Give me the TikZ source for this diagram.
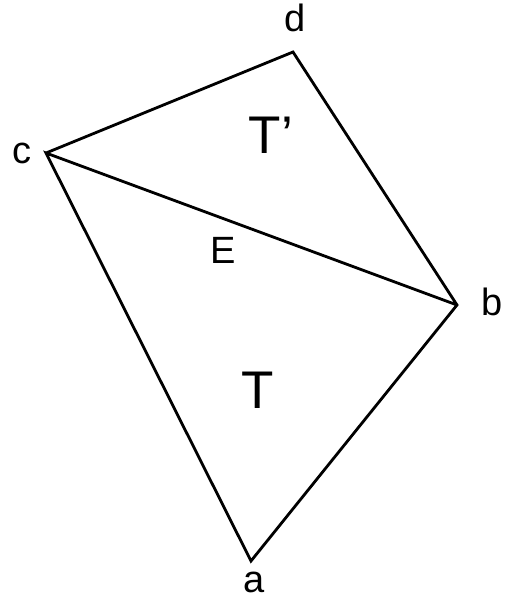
\documentclass[tikz,border=0pt]{standalone}
\usepackage{fontspec}
\setmainfont{Liberation Sans}
\usetikzlibrary{positioning}

\begin{document}
\begin{tikzpicture}[x=1pt, y=-1pt,
    vlabel/.style={anchor=base, inner sep=0pt, font=\fontsize{38}{40}\selectfont},
    tlabel/.style={anchor=base, inner sep=0pt, font=\fontsize{53}{56}\selectfont},
    edge/.style={draw, line width=2.8pt, line join=miter}]
    \useasboundingbox (0,0) rectangle (510,599);

    % Vertices
    \coordinate (a) at (251,561);
    \coordinate (b) at (457,305);
    \coordinate (c) at (46,153);
    \coordinate (d) at (293,52);

    % Labels
    \node [vlabel] (la) at (254,592) {a};
    \node [vlabel] (lb) at (492,315) {b};
    \node [vlabel] (lc) at (22,163) {c};
    \node [vlabel] (ld) at (295,32) {d};
    \node [vlabel] (le) at (223,263) {E};
    \node [tlabel] (lt) at (258,408) {T};
    \node [tlabel] (ltp) at (271,153) {T’};

    % Edges
    \path [edge] (c) -- (d) -- (b) -- (a) -- (c) -- (b);
\end{tikzpicture}
\end{document}
